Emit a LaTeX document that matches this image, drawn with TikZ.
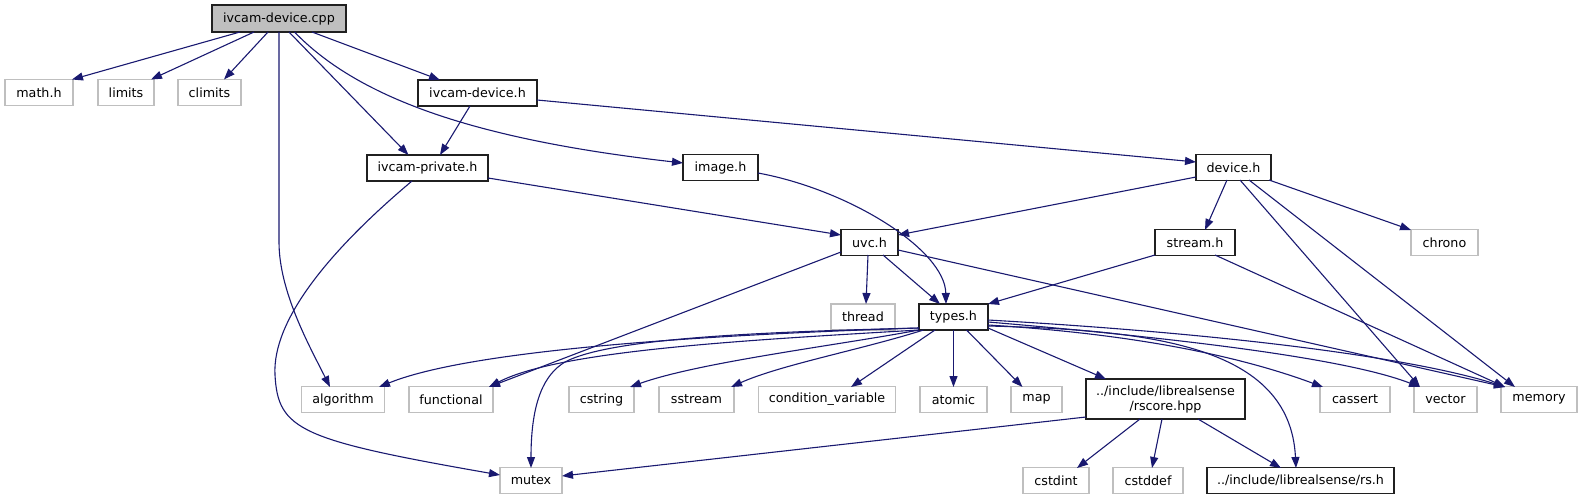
\documentclass[tikz,border=0pt]{standalone}
\usepackage{fontspec}
\setmainfont{DejaVu Sans}
\usetikzlibrary{arrows.meta,calc}
\definecolor{edgec}{HTML}{191970}
\definecolor{gline}{HTML}{BFBFBF}
\definecolor{rootfill}{HTML}{BFBFBF}
\definecolor{bline}{HTML}{202020}
\newcommand{\nodefont}{\fontsize{12.7}{15}\selectfont}
\tikzset{
  box/.style={draw, rectangle, inner sep=0pt, minimum height=26pt, line width=1.2pt, font=\nodefont, fill=white},
  gbox/.style={box, draw=gline},
  bbox/.style={box, draw=bline},
  dep/.style={draw=edgec, line width=1.1pt, -{Triangle[length=11pt,width=8pt]}, fill=none}
}
\begin{document}
\begin{tikzpicture}[x=1pt,y=-1pt]
\useasboundingbox (0,0) rectangle (1583,500);
% nodes
\node[bbox, fill=rootfill, minimum width=134pt, minimum height=27pt] (cpp) at (279,18.5) {ivcam-device.cpp};
\node[gbox, minimum width=68pt] (math) at (39,92.5) {math.h};
\node[gbox, minimum width=56pt] (limits) at (126,92.5) {limits};
\node[gbox, minimum width=63pt] (climits) at (209.5,92.5) {climits};
\node[bbox, minimum width=119pt] (ivdh) at (477.5,93) {ivcam-device.h};
\node[bbox, minimum width=121pt] (ivph) at (427.5,168) {ivcam-private.h};
\node[bbox, minimum width=75pt] (image) at (720.5,167.5) {image.h};
\node[bbox, minimum width=75pt] (device) at (1233.5,167.5) {device.h};
\node[bbox, minimum width=57pt] (uvc) at (869.5,242.5) {uvc.h};
\node[bbox, minimum width=80pt] (stream) at (1195,242.5) {stream.h};
\node[gbox, minimum width=67pt] (chrono) at (1444.5,242.5) {chrono};
\node[gbox, minimum width=64pt] (thread) at (863,317) {thread};
\node[bbox, minimum width=69pt] (types) at (953.5,317) {types.h};
\node[gbox, minimum width=83pt] (algorithm) at (343,399.5) {algorithm};
\node[gbox, minimum width=84pt] (functional) at (451,399.5) {functional};
\node[gbox, minimum width=65pt] (cstring) at (601.5,399.5) {cstring};
\node[gbox, minimum width=75pt] (sstream) at (696.5,399.5) {sstream};
\node[gbox, minimum width=137pt] (condvar) at (827,399.5) {condition\_variable};
\node[gbox, minimum width=67pt] (atomic) at (953.5,399.5) {atomic};
\node[gbox, minimum width=51pt] (map) at (1036.5,399.5) {map};
\node[bbox, minimum width=159pt, minimum height=40pt, align=center] (rscore) at (1165.5,399) {../include/librealsense\\/rscore.hpp};
\node[gbox, minimum width=70pt] (cassert) at (1355,399.5) {cassert};
\node[gbox, minimum width=63pt] (vector) at (1445.5,399.5) {vector};
\node[gbox, minimum width=76pt] (memory) at (1539,399.5) {memory};
\node[gbox, minimum width=62pt] (mutex) at (531,480.5) {mutex};
\node[gbox, minimum width=66pt] (cstdint) at (1056,480.5) {cstdint};
\node[gbox, minimum width=70pt] (cstddef) at (1148,480.5) {cstddef};
\node[bbox, minimum width=187pt] (rsh) at (1300.5,480.5) {../include/librealsense/rs.h};
% edges
\draw[dep] ($(cpp)+(-39,13.5)$) -- ($(math)+(33,-13)$);
\draw[dep] ($(cpp)+(-25,13.5)$) -- ($(limits)+(25,-13)$);
\draw[dep] ($(cpp)+(-11,13.5)$) -- ($(climits)+(14.5,-13)$);
\draw[dep] ($(cpp)+(0,13.5)$) -- ++(0,210) .. controls (279,292) and (310,347) .. ($(algorithm)+(-13,-12.5)$);
\draw[dep] ($(cpp)+(10,13.5)$) -- ($(ivph)+(-19,-13)$);
\draw[dep] ($(cpp)+(15.5,13.5)$) .. controls (360,100) and (480,140) .. ($(image)+(-37.5,-4.5)$);
\draw[dep] ($(cpp)+(33,13.5)$) -- ($(ivdh)+(-37.5,-13)$);
\draw[dep] ($(ivdh)+(-7.5,13)$) -- ($(ivph)+(12.5,-13)$);
\draw[dep] ($(ivdh)+(59.5,7)$) -- ($(device)+(-37.5,-5.5)$);
\draw[dep] ($(ivph)+(60.5,10)$) -- ($(uvc)+(-28.5,-7.5)$);
\draw[dep] ($(ivph)+(-15.5,13)$) .. controls (330,250) and (272,320) .. (275,375) .. controls (278,430) and (300,440) .. ($(mutex)+(-31,-5.5)$);
\draw[dep] ($(image)+(37.5,5.5)$) .. controls (850,190) and (945,250) .. ($(types)+(-7.5,-13)$);
\draw[dep] ($(device)+(-37.5,9.5)$) -- ($(uvc)+(28.5,-7.5)$);
\draw[dep] ($(device)+(-6.5,12.5)$) -- ($(stream)+(10,-12.5)$);
\draw[dep] ($(device)+(6.5,12.5)$) -- ($(vector)+(-25.5,-12.5)$);
\draw[dep] ($(device)+(15.5,12.5)$) -- ($(memory)+(-24,-12.5)$);
\draw[dep] ($(device)+(35.5,12.5)$) -- ($(chrono)+(-33.5,-12.5)$);
\draw[dep] ($(stream)+(-40,12.5)$) -- ($(types)+(34.5,-13)$);
\draw[dep] ($(stream)+(20,12.5)$) -- ($(memory)+(-34,-12.5)$);
\draw[dep] ($(uvc)+(-1.5,12.5)$) -- ($(thread)+(3,-13)$);
\draw[dep] ($(uvc)+(13.5,12.5)$) -- ($(types)+(-13.5,-13)$);
\draw[dep] ($(uvc)+(-28.5,9.5)$) -- ($(functional)+(38,-12.5)$);
\draw[dep] ($(uvc)+(28.5,7.5)$) -- ($(memory)+(-34,-12.5)$);
\draw[dep] ($(types)+(-34.5,11)$) .. controls (700,335) and (470,350) .. ($(algorithm)+(36,-12.5)$);
\draw[dep] ($(types)+(-34.5,13)$) .. controls (750,340) and (560,350) .. ($(functional)+(38,-12.5)$);
\draw[dep] ($(types)+(-34.5,11)$) .. controls (760,332) and (610,338) .. (565,362) .. controls (545,374) and (531,400) .. ($(mutex)+(0,-12.5)$);
\draw[dep] ($(types)+(-34.5,13)$) .. controls (840,345) and (700,362) .. ($(cstring)+(28.5,-12.5)$);
\draw[dep] ($(types)+(-30,13)$) .. controls (860,350) and (780,365) .. ($(sstream)+(34.5,-12.5)$);
\draw[dep] ($(types)+(-18.5,13)$) -- ($(condvar)+(24,-12.5)$);
\draw[dep] ($(types)+(0,13)$) -- ($(atomic)+(0,-12.5)$);
\draw[dep] ($(types)+(13,13)$) -- ($(map)+(-14,-12.5)$);
\draw[dep] ($(types)+(34.5,11)$) -- ($(rscore)+(-59.5,-20)$);
\draw[dep] ($(types)+(34.5,9)$) .. controls (1150,330) and (1290,345) .. ($(rsh)+(-4.5,-12.5)$);
\draw[dep] ($(types)+(34.5,8)$) .. controls (1150,335) and (1250,360) .. ($(cassert)+(-32,-12.5)$);
\draw[dep] ($(types)+(34.5,5)$) .. controls (1200,340) and (1350,360) .. ($(vector)+(-25.5,-12.5)$);
\draw[dep] ($(types)+(34.5,3)$) .. controls (1250,335) and (1420,360) .. ($(memory)+(-34,-12.5)$);
\draw[dep] ($(rscore)+(-79.5,18)$) -- ($(mutex)+(31,-4.5)$);
\draw[dep] ($(rscore)+(-25.5,20)$) -- ($(cstdint)+(21,-12.5)$);
\draw[dep] ($(rscore)+(-3.5,20)$) -- ($(cstddef)+(4,-12.5)$);
\draw[dep] ($(rscore)+(32.5,20)$) -- ($(rsh)+(-19.5,-12.5)$);
\end{tikzpicture}
\end{document}
